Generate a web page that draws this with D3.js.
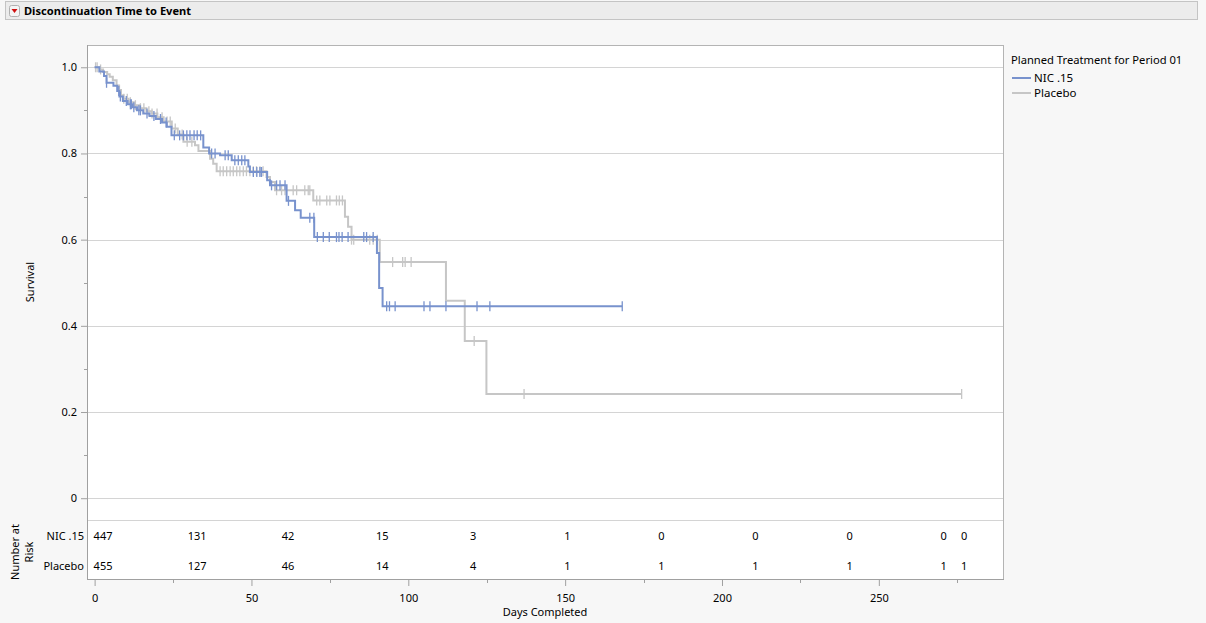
<!DOCTYPE html>
<html>
<head>
<meta charset="utf-8">
<script src="https://cdn.jsdelivr.net/npm/d3@7"></script>
<style>
  html, body { margin: 0; padding: 0; background: #f7f7f7; }
  svg { display: block; font-family: "Noto Sans", "Open Sans", sans-serif; }
</style>
</head>
<body>
<svg id="chart" width="1206" height="623"></svg>
<script>
// step times and survival after each step
const nicTimes = [0, 1.5, 3, 3.8, 6, 7.2, 7.9, 9, 10.5, 12, 13.5, 15.5, 17.5, 19.5, 21.5, 23, 24.5,
  34.65, 36.5, 40, 43.7, 49, 49.5, 55, 55.9, 61.2, 63.9, 65.7, 70, 90, 90.7, 91.8];
const nicSurv = [1.0, 0.99, 0.98, 0.964, 0.957, 0.945, 0.932, 0.922, 0.914, 0.907, 0.9, 0.893, 0.887, 0.88, 0.872, 0.862, 0.842,
  0.814, 0.8, 0.796, 0.784, 0.77, 0.757, 0.738, 0.726, 0.69, 0.668, 0.651, 0.606, 0.569, 0.488, 0.4455];
const nicCensor = [3.8, 7.7, 8.2, 10.1, 11.4, 11.7, 12.5, 14.1, 14.6, 16.7, 18.9, 21, 22.8, 25.4, 27.1,
  28.3, 29.4, 30.4, 31.7, 32.7, 33.8, 37.3, 38.4, 41.6, 42.6, 44.7, 45.8, 46.9, 47.9,
  50.6, 51.7, 52.7, 53.2, 56.4, 58, 59.1, 60.7, 61.8, 68.6,
  69.9, 71, 72.9, 74.8, 77.1, 77.9, 78.9, 80.8, 85.8, 86.7, 88.8,
  93.1, 94, 95.8, 105, 106.9, 112, 121.9, 126, 168.2];
const nicEnd = 168.2;

const pboTimes = [0, 1.7, 2.7, 4, 4.8, 5.8, 7, 7.8, 8.4, 9.2, 10.8, 12.5, 14.5, 16.5, 18.2, 20, 22, 24.6, 26.5,
  28.3, 32, 33.1, 36.8, 37.8, 38.9, 54.8, 55.9, 57.5, 69.7, 79.8, 80.8, 81.9, 90.9, 112, 118, 124.9];
const pboSurv = [1.0, 0.995, 0.989, 0.984, 0.978, 0.97, 0.958, 0.947, 0.935, 0.927, 0.919, 0.912, 0.905, 0.898, 0.8925, 0.884, 0.874, 0.858, 0.844,
  0.827, 0.819, 0.806, 0.788, 0.776, 0.759, 0.7455, 0.734, 0.7146, 0.691, 0.653, 0.63, 0.6, 0.548, 0.458, 0.365, 0.242];
const pboCensor = [0.3, 0.8, 1.9, 9.3, 10.4, 11.4, 13, 14.6, 15.7, 17.3, 18.3, 19.9, 21.5, 23.1, 24.1, 25.7, 27.9, 29.5, 31,
  40, 41, 42.1, 43.2, 44.2, 45.3, 46.3, 47.4, 48.4, 49.5, 50.6, 51.6, 52.7, 53.7,
  58, 59.6, 60.7, 63.3, 64.4, 67, 68.1, 68.6, 70.8, 71.8, 74, 75, 77.1, 78, 79,
  81.9, 82.6, 87.7, 88.8, 90.1, 95, 98.2, 99, 100.9, 121, 136.9, 276.4];
const pboEnd = 276.4;

// number at risk table
const riskTimes = [0, 30, 60, 90, 120, 150, 180, 210, 240, 270, 276.5];
const nicRisk = [447, 131, 42, 15, 3, 1, 0, 0, 0, 0, 0];
const pboRisk = [455, 127, 46, 14, 4, 1, 1, 1, 1, 1, 1];

const groups = ['NIC .15', 'Placebo'];
const colors = ['#7892cd', '#c6c6c6'];
const xTicks = [0, 50, 100, 150, 200, 250];
const yTicks = [0, 0.2, 0.4, 0.6, 0.8, 1.0];

const svg = d3.select('#chart');

// header bar
svg.append('rect').attr('x', 5.5).attr('y', 1.5).attr('width', 1192).attr('height', 18)
  .attr('fill', '#ececec').attr('stroke', '#c4c4c4');
svg.append('rect').attr('x', 9.5).attr('y', 5.5).attr('width', 10).attr('height', 11)
  .attr('rx', 2).attr('fill', '#f4f4f4').attr('stroke', '#b0b0b0');
svg.append('path').attr('d', 'M11.5,9 L17.5,9 L14.5,13 Z').attr('fill', '#d01010');
svg.append('text').attr('x', 24).attr('y', 15).attr('font-size', 11.1).attr('font-weight', 'bold')
  .attr('fill', '#000').text('Discontinuation Time to Event');

const pLeft = 87, pRight = 1004, pTop = 45, pSep = 520.7, pBottom = 580;

const x = d3.scaleLinear().domain([-2.43, 289.9]).range([pLeft, pRight]);
const y = d3.scaleLinear().domain([-0.0522, 1.0517]).range([pSep, pTop]);

// frame
svg.append('rect').attr('x', pLeft).attr('y', pTop).attr('width', pRight - pLeft).attr('height', pBottom - pTop)
  .attr('fill', '#fff');

// grid
svg.append('g').selectAll('line').data(yTicks).join('line')
  .attr('x1', pLeft).attr('x2', pRight)
  .attr('y1', d => Math.round(y(d)) + 0.5).attr('y2', d => Math.round(y(d)) + 0.5)
  .attr('stroke', '#d4d4d4');
svg.append('line').attr('x1', pLeft).attr('x2', pRight).attr('y1', 520.5).attr('y2', 520.5)
  .attr('stroke', '#d4d4d4');

svg.append('rect').attr('x', pLeft + 0.5).attr('y', pTop + 0.5).attr('width', pRight - pLeft - 1).attr('height', pBottom - pTop - 1)
  .attr('fill', 'none').attr('stroke', '#b4b4b4');
svg.append('line').attr('x1', pLeft + 0.5).attr('x2', pLeft + 0.5).attr('y1', pTop).attr('y2', pBottom)
  .attr('stroke', '#a0a0a0');
svg.append('line').attr('x1', pLeft).attr('x2', pRight).attr('y1', pBottom - 0.5).attr('y2', pBottom - 0.5)
  .attr('stroke', '#a0a0a0');

// y axis
const yAxis = svg.append('g').attr('transform', `translate(${pLeft},0)`)
  .call(d3.axisLeft(y).tickValues(yTicks).tickFormat(d => d === 0 ? '0' : d3.format('.1f')(d)).tickSize(6).tickPadding(4));
yAxis.select('.domain').remove();
yAxis.selectAll('.tick line').attr('stroke', '#a0a0a0');
yAxis.selectAll('.tick text').attr('font-size', 11).attr('fill', '#000').attr('font-family', '"Noto Sans", sans-serif');
svg.append('g').selectAll('line').data(d3.range(0.1, 1.0, 0.2)).join('line')
  .attr('x1', pLeft - 3).attr('x2', pLeft)
  .attr('y1', d => Math.round(y(d)) + 0.5).attr('y2', d => Math.round(y(d)) + 0.5)
  .attr('stroke', '#a0a0a0');

// x axis
const xAxis = svg.append('g').attr('transform', `translate(0,${pBottom})`)
  .call(d3.axisBottom(x).tickValues(xTicks).tickSize(6).tickPadding(8));
xAxis.select('.domain').remove();
xAxis.selectAll('.tick line').attr('stroke', '#a0a0a0');
xAxis.selectAll('.tick text').attr('font-size', 11).attr('fill', '#000').attr('font-family', '"Noto Sans", sans-serif');
svg.append('g').selectAll('line').data(d3.range(25, 290, 50)).join('line')
  .attr('x1', d => Math.round(x(d)) + 0.5).attr('x2', d => Math.round(x(d)) + 0.5)
  .attr('y1', pBottom).attr('y2', pBottom + 3)
  .attr('stroke', '#a0a0a0');

// axis titles
svg.append('text').attr('x', 545).attr('y', 616).attr('text-anchor', 'middle')
  .attr('font-size', 11).attr('fill', '#000').text('Days Completed');
svg.append('text').attr('transform', 'translate(34,282) rotate(-90)').attr('text-anchor', 'middle')
  .attr('font-size', 11).attr('fill', '#000').text('Survival');
svg.append('text').attr('transform', 'translate(19,552) rotate(-90)').attr('text-anchor', 'middle')
  .attr('font-size', 11).attr('fill', '#000').text('Number at');
svg.append('text').attr('transform', 'translate(33,552) rotate(-90)').attr('text-anchor', 'middle')
  .attr('font-size', 11).attr('fill', '#000').text('Risk');

// survival curves
const stepLine = d3.line().x(d => x(d[0])).y(d => y(d[1])).curve(d3.curveStepAfter);
const series = [
  { times: nicTimes, surv: nicSurv, censor: nicCensor, end: nicEnd, color: colors[0] },
  { times: pboTimes, surv: pboSurv, censor: pboCensor, end: pboEnd, color: colors[1] }
];
function survAt(s, t) {
  let v = s.surv[0];
  for (let i = 0; i < s.times.length; i++) if (s.times[i] <= t) v = s.surv[i];
  return v;
}
const plot = svg.append('g');
series.slice().reverse().forEach(s => {
  const pts = s.times.map((t, i) => [t, s.surv[i]]);
  pts.push([s.end, s.surv[s.surv.length - 1]]);
  plot.append('path').attr('d', stepLine(pts)).attr('fill', 'none')
    .attr('stroke', s.color).attr('stroke-width', 2);
  plot.append('g').selectAll('line').data(s.censor).join('line')
    .attr('x1', d => x(d)).attr('x2', d => x(d))
    .attr('y1', d => y(survAt(s, d)) - 5).attr('y2', d => y(survAt(s, d)) + 5)
    .attr('stroke', s.color).attr('stroke-width', 1.3);
});

// number at risk
const rows = [nicRisk, pboRisk];
const rowY = [540, 570];
groups.forEach((g, gi) => {
  svg.append('text').attr('x', 84).attr('y', rowY[gi]).attr('text-anchor', 'end')
    .attr('font-size', 11).attr('fill', '#000').text(g);
  svg.append('g').selectAll('text').data(riskTimes).join('text')
    .attr('x', d => x(d) - 1).attr('y', rowY[gi])
    .attr('font-size', 11).attr('fill', '#000')
    .text((d, i) => rows[gi][i]);
});

// legend
svg.append('text').attr('x', 1011).attr('y', 64).attr('font-size', 11.2).attr('fill', '#000')
  .text('Planned Treatment for Period 01');
groups.forEach((g, gi) => {
  const ly = 78 + gi * 15;
  svg.append('line').attr('x1', 1012).attr('x2', 1031).attr('y1', ly).attr('y2', ly)
    .attr('stroke', colors[gi]).attr('stroke-width', 2);
  svg.append('text').attr('x', 1034).attr('y', ly + 4).attr('font-size', 11.5).attr('fill', '#000').text(g);
});
</script>
</body>
</html>
